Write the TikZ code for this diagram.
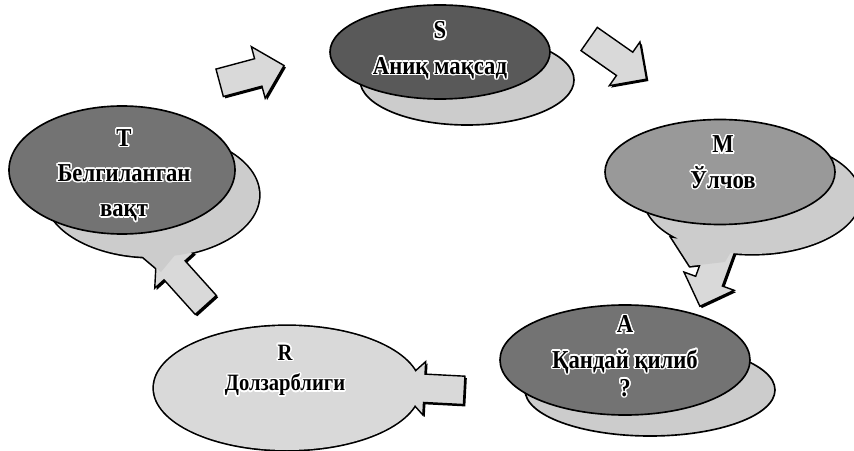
\documentclass[tikz,border=0pt]{standalone}
\usepackage{fontspec}
\setmainfont{Liberation Serif}[FakeStretch=0.88]
\usepackage{contour}
\contourlength{1.3pt}
\usetikzlibrary{shapes.geometric,shapes.arrows,shadows}
\tikzset{
  bubble/.style={ellipse, draw=black, line width=1.4pt, inner sep=0pt},
  backing/.style={draw=black, line width=2.8pt},
  blockarrow/.style={single arrow, draw=black, line width=1.2pt, fill=black!15,
    inner xsep=0pt, inner ysep=0.405cm, single arrow head extend=0.375cm,
    drop shadow={opacity=1, fill=black, shadow xshift=1.6pt, shadow yshift=-1.6pt}},
  caption/.style={font=\bfseries\fontsize{22}{30}\selectfont, align=center}
}
\newcommand{\halo}[1]{\contour{white}{#1}}
\begin{document}
\begin{tikzpicture}[x=0.03cm, y=-0.03cm]
  \useasboundingbox (0,0) rectangle (854,451);

  \draw[line width=1.4pt, fill=black!20] (467,80) ellipse [x radius=107, y radius=45];
  \node[bubble, fill=black!65, minimum width=6.6cm, minimum height=2.82cm] (S) at (440,52) {};
  \node[caption] (Stext) at (440,51) {\halo{S}\\\halo{Аниқ мақсад}};

  \draw[line width=1.4pt, fill=black!20] (650,390) ellipse [x radius=125, y radius=46];
  \node[bubble, fill=black!55, minimum width=7.5cm, minimum height=3.3cm] (A) at (625,360) {};
  \node[caption] (Atext) at (625,357) {\halo{A}\\\halo{Қандай қилиб}\\[-6pt]\halo{?}};

  \begin{scope}
    \draw[backing, fill=black!20] (152,195) ellipse [x radius=107, y radius=62]
      (135,250) -- (175,255) -- (161,272) -- cycle;
    \node[blockarrow, minimum height=2.2cm, rotate=132] (RT) at (186,283) {};
    \fill[black!20] (152,195) ellipse [x radius=107, y radius=62]
      (135,250) -- (175,255) -- (161,272) -- cycle;
    \node[bubble, fill=black!55, minimum width=6.78cm, minimum height=3.84cm] (T) at (122,170) {};
    \node[caption] (Ttext) at (124,176) {\halo{T}\\\halo{Белгиланган}\\\halo{вақт}};
  \end{scope}

  \begin{scope}
    \draw[backing, fill=black!20] (752,197) ellipse [x radius=108, y radius=57]
      (672,238) -- (735,245) -- (725,262) -- (690,266) -- cycle;
    \node[blockarrow, minimum height=2.4cm, rotate=-110] (MA) at (716,262) {};
    \fill[black!20] (752,197) ellipse [x radius=108, y radius=57]
      (672,238) -- (735,245) -- (725,262) -- (690,266) -- cycle;
    \node[bubble, fill=black!40, minimum width=6.9cm, minimum height=3.15cm] (M) at (720,172) {};
    \node[caption] (Mtext) at (723,163) {\halo{M}\\\halo{Ўлчов}};
  \end{scope}

  \begin{scope}
    \draw[backing, fill=black!15] (287,388) ellipse [x radius=133, y radius=62]
      (395,358) -- (420,380) -- (420,395) -- (395,418) -- cycle;
    \node[blockarrow, minimum height=2cm, rotate=177] (AR) at (438,389) {};
    \fill[black!15] (287,388) ellipse [x radius=133, y radius=62]
      (395,358) -- (420,380) -- (420,395) -- (395,418) -- cycle;
    \node[inner sep=0pt, minimum width=7.98cm, minimum height=3.72cm] (R) at (287,388) {};
    \node[caption, font=\bfseries\fontsize{20}{26}\selectfont] (Rtext) at (285,371) {\halo{R}\\\halo{Долзарблиги}};
  \end{scope}

  \node[blockarrow, minimum height=2cm, rotate=15] (TS) at (245,76) {};
  \node[blockarrow, minimum height=2.1cm, rotate=-35] (SM) at (612,55) {};
\end{tikzpicture}
\end{document}
